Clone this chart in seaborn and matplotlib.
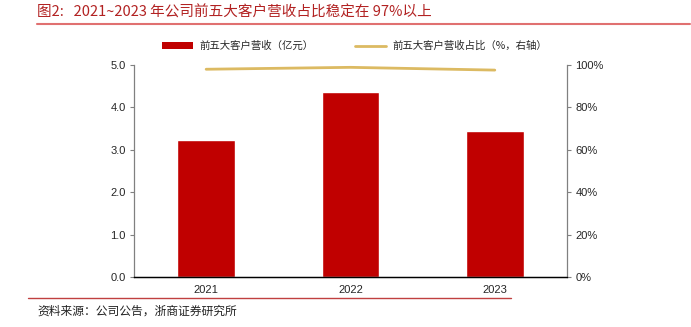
import matplotlib
matplotlib.use("Agg")
import matplotlib.pyplot as plt
import seaborn as sns
import pandas as pd
from matplotlib.lines import Line2D
from matplotlib.patches import Patch

years = ["2021", "2022", "2023"]
revenue = [3.22, 4.36, 3.44]
share = [98.0, 98.9, 97.6]
left_ticks = [0.0, 1.0, 2.0, 3.0, 4.0, 5.0]
right_ticks = [0, 20, 40, 60, 80, 100]

sns.set_theme(style="white")
plt.rcParams['font.family'] = ['Liberation Sans', 'Noto Sans CJK SC', 'DejaVu Sans']

df = pd.DataFrame({"year": years, "revenue": revenue, "share": share})

fig = plt.figure(figsize=(6.91, 3.27), dpi=100)
ax = fig.add_axes([0.1939, 0.1529, 0.6266, 0.6483])
bar_color = "#C00000"
line_color = "#DCBA62"
sns.barplot(data=df, x="year", y="revenue", color=bar_color, width=0.4,
            saturation=1, ax=ax)
ax.set_xlim(-0.5, 2.5)
ax.set_ylim(0, 5)
ax.set_yticks(left_ticks)
ax.set_yticklabels([f"{v:.1f}" for v in left_ticks], fontsize=8)
ax.set_xlabel("")
ax.set_ylabel("")
ax.tick_params(axis='x', labelsize=8, length=0, pad=6)
ax.tick_params(axis='y', length=3, width=0.8, color="#808080", left=True, pad=3)

ax2 = ax.twinx()
sns.lineplot(x=[0, 1, 2], y=share, color=line_color, linewidth=2, ax=ax2)
ax2.set_ylim(0, 100)
ax2.set_yticks(right_ticks)
ax2.set_yticklabels([f"{v}%" for v in right_ticks], fontsize=8)
ax2.tick_params(axis='y', length=3, width=0.8, color="#808080", right=True, pad=3)
ax2.set_xlim(-0.5, 2.5)

for a in (ax, ax2):
    a.spines["top"].set_visible(False)
    a.spines["left"].set_color("#808080")
    a.spines["right"].set_color("#808080")
    a.spines["bottom"].set_color("#000000")
    a.spines["left"].set_linewidth(0.9)
    a.spines["right"].set_linewidth(0.9)
    a.spines["bottom"].set_linewidth(0.9)
ax.spines["right"].set_visible(False)
ax2.spines["left"].set_visible(False)

handles = [Patch(facecolor=bar_color, edgecolor='none'),
           Line2D([0], [0], color=line_color, linewidth=2)]
labels = ["前五大客户营收（亿元）", "前五大客户营收占比（%，右轴）"]
fig.legend(handles, labels, loc="center", bbox_to_anchor=(0.513, 0.859),
           ncol=2, frameon=False, handlelength=3.0,
           columnspacing=4.0, handletextpad=0.6,
           prop={'family': ['Noto Sans CJK SC'], 'size': 7.5})

title_color = "#B22222"
fig.text(0.054, 0.963, "图2:   2021~2023 年公司前五大客户营收占比稳定在 97%以上",
         color=title_color, fontsize=10.5, va="center", ha="left",
         family=['Noto Sans CJK SC', 'DejaVu Sans'])
fig.add_artist(Line2D([0.054, 0.998], [0.926, 0.926], color="#E07070", linewidth=1.5,
                      transform=fig.transFigure))
fig.add_artist(Line2D([0.040, 0.74], [0.088, 0.088], color="#C04040", linewidth=1.0,
                      transform=fig.transFigure))
fig.text(0.054, 0.048, "资料来源：公司公告，浙商证券研究所", fontsize=8.5,
         color="#222222", va="center", ha="left", family=['Noto Sans CJK SC', 'DejaVu Sans'])

fig.savefig("out.png", dpi=100)
